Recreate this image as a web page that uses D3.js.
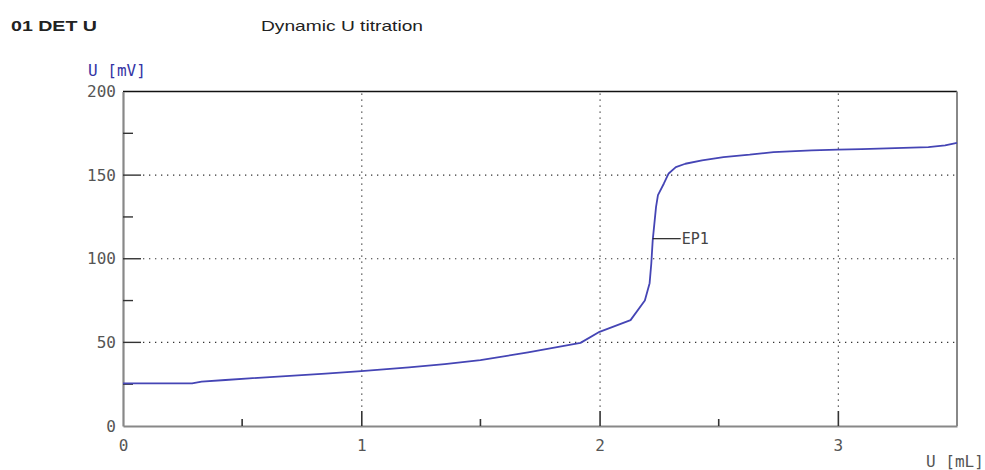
<!DOCTYPE html>
<html>
<head>
<meta charset="utf-8">
<script src="https://cdn.jsdelivr.net/npm/d3@7"></script>
<style>
  html, body { margin: 0; padding: 0; background: #fff; }
  svg { display: block; }
</style>
</head>
<body>
<svg id="chart" width="985" height="470"></svg>
<script>
// Titration curve: dispensed volume (mL) vs. measured potential (mV)
const volume = [0, 0.29, 0.33, 0.43, 0.53, 0.7, 0.85, 1.0, 1.2, 1.35, 1.5, 1.7, 1.92, 2.0,
  2.13, 2.19, 2.21, 2.217, 2.223, 2.237, 2.245, 2.27, 2.29, 2.32, 2.36, 2.43, 2.52, 2.63,
  2.73, 2.89, 3.0, 3.1, 3.38, 3.45, 3.5];
const potential = [25.5, 25.5, 26.5, 27.5, 28.5, 30.0, 31.3, 32.8, 35.0, 37.0, 39.4, 44.0,
  49.7, 56.3, 63.3, 75, 85.4, 97, 111, 131, 138, 145, 151, 154.8, 156.8, 158.8, 160.8,
  162.2, 163.8, 164.8, 165.2, 165.5, 166.8, 167.8, 169.3];

// Axis ticks
const xMajorTicks = [0, 1, 2, 3];
const xMinorTicks = [0.5, 1.5, 2.5];
const yMajorTicks = [0, 50, 100, 150, 200];
const yMinorTicks = [25, 75, 125, 175];
const xGrid = [1, 2, 3];
const yGrid = [50, 100, 150];

// Endpoint marker
const endpointLabel = "EP1";
const endpointVolume = 2.223;
const endpointPotential = 112;

const titleLeft = "01  DET U";
const titleRight = "Dynamic U titration";
const yAxisTitle = "U [mV]";
const xAxisTitle = "U [mL]";

const svg = d3.select("#chart");
const plot = { left: 123, right: 957, top: 91.5, bottom: 426 };

const x = d3.scaleLinear().domain([0, 3.5]).range([plot.left, plot.right]);
const y = d3.scaleLinear().domain([0, 200]).range([plot.bottom, plot.top]);

const monoFont = "'DejaVu Sans Mono', 'Liberation Mono', monospace";
const sansFont = "'Liberation Sans', Arial, sans-serif";

// Header texts
svg.append("text")
  .attr("x", 11).attr("y", 31)
  .attr("font-family", sansFont).attr("font-size", 14.5).attr("font-weight", "bold")
  .attr("fill", "#222")
  .attr("textLength", 86).attr("lengthAdjust", "spacingAndGlyphs")
  .text(titleLeft);
svg.append("text")
  .attr("x", 261).attr("y", 31)
  .attr("font-family", sansFont).attr("font-size", 14.5)
  .attr("fill", "#222")
  .attr("textLength", 162).attr("lengthAdjust", "spacingAndGlyphs")
  .text(titleRight);

// Grid lines (dotted)
const grid = svg.append("g").attr("stroke", "#333").attr("stroke-width", 1.2)
  .attr("stroke-dasharray", "1.3,4.7");
grid.selectAll("line.gx").data(xGrid).join("line")
  .attr("class", "gx")
  .attr("x1", d => x(d) + 0.5).attr("x2", d => x(d) + 0.5)
  .attr("y1", plot.top + 2).attr("y2", plot.bottom - 15);
grid.selectAll("line.gy").data(yGrid).join("line")
  .attr("class", "gy")
  .attr("x1", plot.left + 20).attr("x2", plot.right - 2)
  .attr("y1", d => y(d)).attr("y2", d => y(d));

// Frame
svg.append("line")
  .attr("x1", plot.left).attr("x2", plot.right)
  .attr("y1", plot.top).attr("y2", plot.top)
  .attr("stroke", "#111").attr("stroke-width", 1.6);
svg.append("line")
  .attr("x1", plot.right).attr("x2", plot.right)
  .attr("y1", plot.top).attr("y2", plot.bottom)
  .attr("stroke", "#888").attr("stroke-width", 2);

// Y axis
const yAxis = d3.axisLeft(y).tickValues(yMajorTicks).tickSize(0).tickPadding(8)
  .tickFormat(d3.format("d"));
const gy = svg.append("g").attr("transform", `translate(${plot.left},0)`).call(yAxis);
gy.select(".domain").attr("stroke", "#888").attr("stroke-width", 2.2);
gy.selectAll("text").attr("font-family", monoFont).attr("font-size", 16)
  .attr("fill", "#555").attr("x", -7);
// Inward ticks on the y axis
svg.append("g").selectAll("line").data(yMajorTicks.slice(1, 4)).join("line")
  .attr("x1", plot.left).attr("x2", plot.left + 18)
  .attr("y1", d => y(d)).attr("y2", d => y(d))
  .attr("stroke", "#333").attr("stroke-width", 1.4);
svg.append("g").selectAll("line").data(yMinorTicks).join("line")
  .attr("x1", plot.left).attr("x2", plot.left + 10)
  .attr("y1", d => y(d)).attr("y2", d => y(d))
  .attr("stroke", "#333").attr("stroke-width", 1.4);

// X axis
const xAxis = d3.axisBottom(x).tickValues(xMajorTicks).tickSize(0).tickPadding(14)
  .tickFormat(d3.format("d"));
const gx = svg.append("g").attr("transform", `translate(0,${plot.bottom})`).call(xAxis);
gx.select(".domain").attr("stroke", "#888").attr("stroke-width", 2.2);
gx.selectAll("text").attr("font-family", monoFont).attr("font-size", 16).attr("fill", "#555");
// Inward ticks on the x axis
svg.append("g").selectAll("line").data(xMajorTicks.slice(1)).join("line")
  .attr("x1", d => x(d) + 0.5).attr("x2", d => x(d) + 0.5)
  .attr("y1", plot.bottom).attr("y2", plot.bottom - 15)
  .attr("stroke", "#333").attr("stroke-width", 1.6);
svg.append("g").selectAll("line").data(xMinorTicks).join("line")
  .attr("x1", d => x(d)).attr("x2", d => x(d))
  .attr("y1", plot.bottom).attr("y2", plot.bottom - 7)
  .attr("stroke", "#333").attr("stroke-width", 1.6);

// Axis titles
svg.append("text")
  .attr("x", 88).attr("y", 76)
  .attr("font-family", monoFont).attr("font-size", 16).attr("fill", "#3535a5")
  .text(yAxisTitle);
svg.append("text")
  .attr("x", 926).attr("y", 467)
  .attr("font-family", monoFont).attr("font-size", 16).attr("fill", "#555")
  .text(xAxisTitle);

// Titration curve
const line = d3.line().x(d => x(d[0])).y(d => y(d[1]));
svg.append("path")
  .datum(d3.zip(volume, potential))
  .attr("d", line)
  .attr("fill", "none")
  .attr("stroke", "#4545b5").attr("stroke-width", 1.8)
  .attr("stroke-linejoin", "round");

// Endpoint marker and label
svg.append("line")
  .attr("x1", x(endpointVolume)).attr("x2", x(endpointVolume) + 28)
  .attr("y1", y(endpointPotential)).attr("y2", y(endpointPotential))
  .attr("stroke", "#222").attr("stroke-width", 1.2);
svg.append("text")
  .attr("x", x(endpointVolume) + 29).attr("y", y(endpointPotential) + 5.5)
  .attr("font-family", monoFont).attr("font-size", 15).attr("fill", "#444")
  .text(endpointLabel);
</script>
</body>
</html>
